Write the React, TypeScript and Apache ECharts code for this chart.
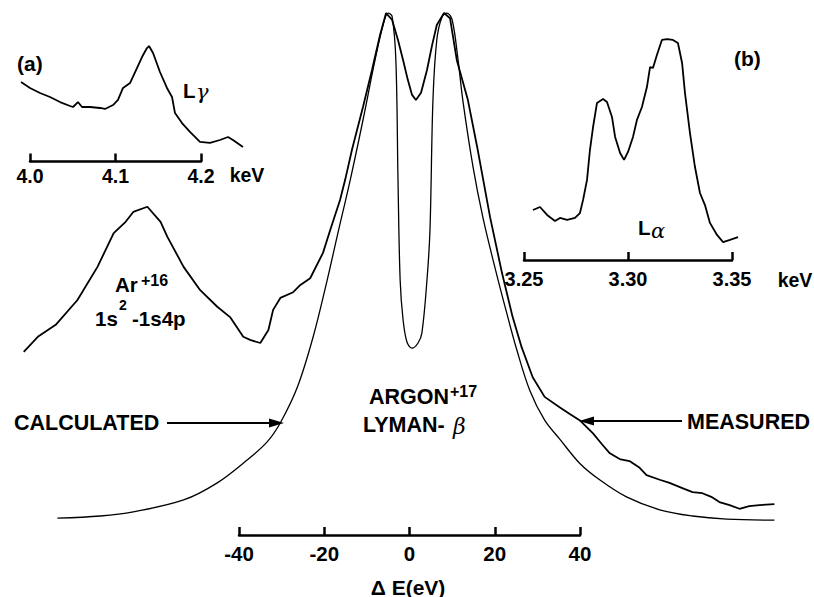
import React, { useEffect, useRef } from "react";
import * as echarts from "echarts";

// Main spectrum: Argon+17 Lyman-beta (ΔE in eV, relative intensity)
const calcEV = [-82.6, -72.5, -64.8, -53.0, -45.1, -38.1, -33.4, -30.3, -26.3, -22.6, -19.3, -17.0, -13.9, -10.9, -8.1, -6.2, -5.0, -4.1, -3.2, -2.7, -2.2, -1.5, -0.6, 0.6, 2.0, 2.9, 4.1, 4.8, 5.5, 6.4, 7.6, 8.8, 10.0, 11.4, 12.5, 14.9, 17.2, 20.0, 22.8, 25.2, 28.2, 31.7, 35.2, 39.9, 44.6, 50.9, 58.7, 66.4, 74.4, 85.6];
const calcI = [2.3, 2.7, 3.5, 5.8, 9.1, 13.5, 17.0, 20.7, 27.6, 37.3, 48.3, 56.6, 67.6, 79.2, 90.7, 97.5, 99.8, 99.2, 90.7, 67.6, 48.3, 40.5, 36.3, 35.1, 36.1, 38.0, 48.3, 57.9, 83.0, 94.6, 99.0, 99.8, 98.5, 90.7, 83.0, 70.1, 60.4, 50.8, 41.9, 34.7, 27.0, 21.2, 17.6, 12.9, 9.7, 6.4, 3.9, 2.7, 2.1, 1.9];

const measEV = [-90.5, -87.2, -83.0, -77.9, -73.2, -69.4, -66.6, -64.8, -61.5, -58.4, -56.8, -53.0, -49.1, -45.1, -42.1, -39.0, -37.4, -35.0, -33.1, -32.0, -30.3, -27.3, -25.6, -23.3, -20.3, -18.6, -16.3, -15.1, -13.5, -10.9, -8.8, -6.9, -5.5, -4.1, -2.7, -1.5, -0.4, 0.6, 1.5, 2.7, 4.1, 5.3, 6.4, 8.1, 9.5, 11.1, 13.7, 16.0, 18.9, 21.7, 24.2, 26.3, 28.9, 31.7, 35.2, 37.6, 39.9, 43.0, 45.1, 47.0, 49.3, 51.6, 54.0, 55.6, 58.7, 61.0, 64.0, 66.4, 68.7, 70.8, 72.7, 75.1, 77.4, 79.7, 82.1, 85.6];
const measI = [34.4, 37.3, 39.6, 44.4, 50.8, 57.3, 59.5, 61.4, 62.4, 59.5, 56.6, 50.8, 46.3, 43.1, 41.1, 37.3, 36.7, 36.1, 38.6, 42.5, 44.8, 45.9, 47.3, 48.6, 53.5, 57.9, 63.7, 67.6, 73.4, 81.7, 88.8, 95.6, 99.8, 98.5, 94.6, 90.7, 86.9, 84.0, 83.0, 84.4, 88.8, 93.6, 97.5, 99.8, 98.8, 90.7, 83.0, 73.4, 60.4, 49.6, 41.1, 35.3, 29.5, 25.7, 23.7, 22.4, 21.2, 18.7, 16.6, 14.8, 13.7, 13.3, 12.0, 10.6, 9.7, 9.1, 8.1, 7.3, 7.1, 6.4, 5.4, 4.8, 4.1, 4.6, 4.8, 5.0];

const mainTicks = [-40, 40, 20]; // min, max, interval

// Inset (a): L-gamma (keV)
const aKeV = [3.9895, 4.0, 4.0117, 4.0234, 4.0351, 4.0468, 4.0503, 4.0561, 4.0608, 4.0702, 4.0819, 4.0877, 4.0971, 4.1029, 4.1088, 4.117, 4.1251, 4.131, 4.1368, 4.1392, 4.1439, 4.152, 4.1602, 4.1661, 4.1696, 4.1778, 4.1871, 4.1988, 4.2105, 4.2222, 4.2316, 4.2374, 4.2491];
const aI = [61.8, 56.4, 51.8, 48.2, 43.6, 40.0, 39.1, 43.6, 39.1, 39.1, 38.2, 37.3, 40.9, 45.5, 56.4, 60.9, 74.5, 84.5, 92.7, 94.5, 88.2, 70.9, 56.4, 48.2, 33.6, 24.5, 16.4, 7.3, 6.4, 9.1, 11.8, 9.1, 2.7];
const aTicks = [4.0, 4.2, 0.1];

// Inset (b): L-alpha (keV)
const bKeV = [3.2543, 3.2577, 3.2611, 3.2649, 3.2673, 3.2707, 3.2745, 3.2769, 3.2784, 3.2803, 3.2817, 3.2832, 3.2851, 3.288, 3.2899, 3.2923, 3.2938, 3.2962, 3.2981, 3.3, 3.3024, 3.3043, 3.3067, 3.3091, 3.3106, 3.312, 3.3139, 3.3163, 3.3188, 3.3216, 3.324, 3.326, 3.3274, 3.3298, 3.3322, 3.3346, 3.337, 3.3394, 3.3428, 3.3457, 3.349, 3.3529];
const bI = [18.6, 20.0, 16.3, 13.5, 14.9, 14.0, 14.9, 17.2, 23.3, 32.6, 46.5, 57.2, 68.4, 70.2, 68.8, 61.9, 52.6, 45.1, 41.9, 45.6, 52.6, 60.5, 66.5, 75.8, 85.1, 84.7, 90.7, 97.7, 98.1, 97.7, 96.3, 87.0, 73.0, 54.4, 38.6, 26.5, 20.9, 12.6, 7.0, 3.7, 4.7, 6.0];
const bTicks = [3.25, 3.35, 0.05];

const FONT = '"Liberation Sans", Arial, Helvetica, sans-serif';
const SERIF = '"DejaVu Serif", "Liberation Serif", serif';

function zip(xs: number[], ys: number[]) {
  return xs.map((x, i) => [x, ys[i]]);
}

function hiddenX(gi: number, min: number, max: number) {
  return { gridIndex: gi, type: "value", min, max, show: false };
}
function hiddenY(gi: number, min = 0, max = 100) {
  return { gridIndex: gi, type: "value", min, max, show: false };
}
function bracketX(gi: number, t: number[], dec: number, margin: number, fs: number) {
  return {
    gridIndex: gi,
    type: "value",
    position: "bottom",
    min: t[0],
    max: t[1],
    interval: t[2],
    axisLine: { show: true, onZero: false, lineStyle: { color: "#000", width: 2.5 } },
    axisTick: { show: true, inside: true, length: 8, lineStyle: { color: "#000", width: 2.5 } },
    splitLine: { show: false },
    axisLabel: {
      show: true,
      color: "#000",
      fontFamily: FONT,
      fontWeight: "bold",
      fontSize: fs,
      margin,
      formatter: (v: number) => v.toFixed(dec),
    },
  };
}

function txt(text: string, x: number, y: number, size: number, opts: any = {}) {
  return {
    type: "text",
    x,
    y,
    silent: true,
    style: {
      text,
      fill: "#000",
      fontFamily: opts.family || FONT,
      fontWeight: opts.weight || "bold",
      fontStyle: opts.style || "normal",
      fontSize: size,
      textAlign: opts.align || "left",
      textVerticalAlign: "middle",
    },
  };
}

export default function App() {
  const ref = useRef<HTMLDivElement>(null);
  useEffect(() => {
    if (!ref.current) return;
    const chart = echarts.init(ref.current, null, { renderer: "svg" });
    const lineS = (xi: number, data: number[][], w: number, smooth: any = false) => ({
      type: "line",
      xAxisIndex: xi,
      yAxisIndex: xi,
      data,
      showSymbol: false,
      symbol: "none",
      smooth,
      lineStyle: { color: "#000", width: w },
      silent: true,
    });
    chart.setOption({
      animation: false,
      backgroundColor: "#fff",
      grid: [
        { left: 17.35, width: 775.8, top: 12, height: 518 },
        { left: 239, width: 341, top: 500, height: 35 },
        { left: 12.9, width: 239.4, top: 40, height: 110 },
        { left: 30, width: 171, top: 130, height: 31.5 },
        { left: 524, width: 228.8, top: 35, height: 215 },
        { left: 524, width: 208, top: 225, height: 35 },
      ],
      xAxis: [
        hiddenX(0, -92, 90),
        bracketX(1, mainTicks, 0, 8, 20.5),
        hiddenX(2, 3.98, 4.26),
        bracketX(3, aTicks, 1, 4, 19.5),
        hiddenX(4, 3.25, 3.36),
        bracketX(5, bTicks, 2, 9, 20),
      ],
      yAxis: [hiddenY(0), hiddenY(1), hiddenY(2), hiddenY(3), hiddenY(4), hiddenY(5)],
      series: [
        lineS(0, zip(calcEV, calcI), 1.3, 0.35),
        lineS(0, zip(measEV, measI), 1.8),
        lineS(2, zip(aKeV, aI), 1.8),
        lineS(4, zip(bKeV, bI), 1.8),
      ],
      graphic: [
        txt("(a)", 17, 63, 21),
        txt("L", 183, 90, 20.5),
        txt("γ", 196, 92, 21, { family: SERIF, weight: "normal", style: "italic" }),
        txt("keV", 247, 175, 19.5, { align: "center" }),
        txt("(b)", 734, 58, 21),
        txt("L", 638, 227, 20.5),
        txt("α", 651, 231, 21, { family: SERIF, weight: "normal", style: "italic" }),
        txt("keV", 795, 280, 19.5, { align: "center" }),
        txt("Ar", 115, 284, 20.5),
        txt("+16", 141, 280, 16),
        txt("1s", 95, 318, 20.5),
        txt("2", 119, 305, 14),
        txt("-1s4p", 132, 318, 20.5),
        txt("ARGON", 369, 397, 21.5),
        txt("+17", 450, 391, 16),
        txt("LYMAN-", 363, 425, 21.5),
        txt("β", 453, 426, 22, { family: SERIF, weight: "normal", style: "italic" }),
        txt("CALCULATED", 14, 423, 21.5),
        txt("MEASURED", 687, 422, 21.5),
        txt("Δ E(eV)", 408, 587, 21, { align: "center" }),
        {
          type: "line",
          silent: true,
          shape: { x1: 167, y1: 423, x2: 272, y2: 423 },
          style: { stroke: "#000", lineWidth: 2 },
        },
        {
          type: "polygon",
          silent: true,
          shape: { points: [[284, 423], [269, 418.5], [269, 427.5]] },
          style: { fill: "#000" },
        },
        {
          type: "line",
          silent: true,
          shape: { x1: 682, y1: 421, x2: 592, y2: 421 },
          style: { stroke: "#000", lineWidth: 2 },
        },
        {
          type: "polygon",
          silent: true,
          shape: { points: [[579, 421], [594, 416.5], [594, 425.5]] },
          style: { fill: "#000" },
        },
      ],
    });
    return () => chart.dispose();
  }, []);
  return (
    <div
      ref={ref}
      style={{ position: "fixed", left: 0, top: 0, width: 814, height: 597, background: "#fff" }}
    />
  );
}
